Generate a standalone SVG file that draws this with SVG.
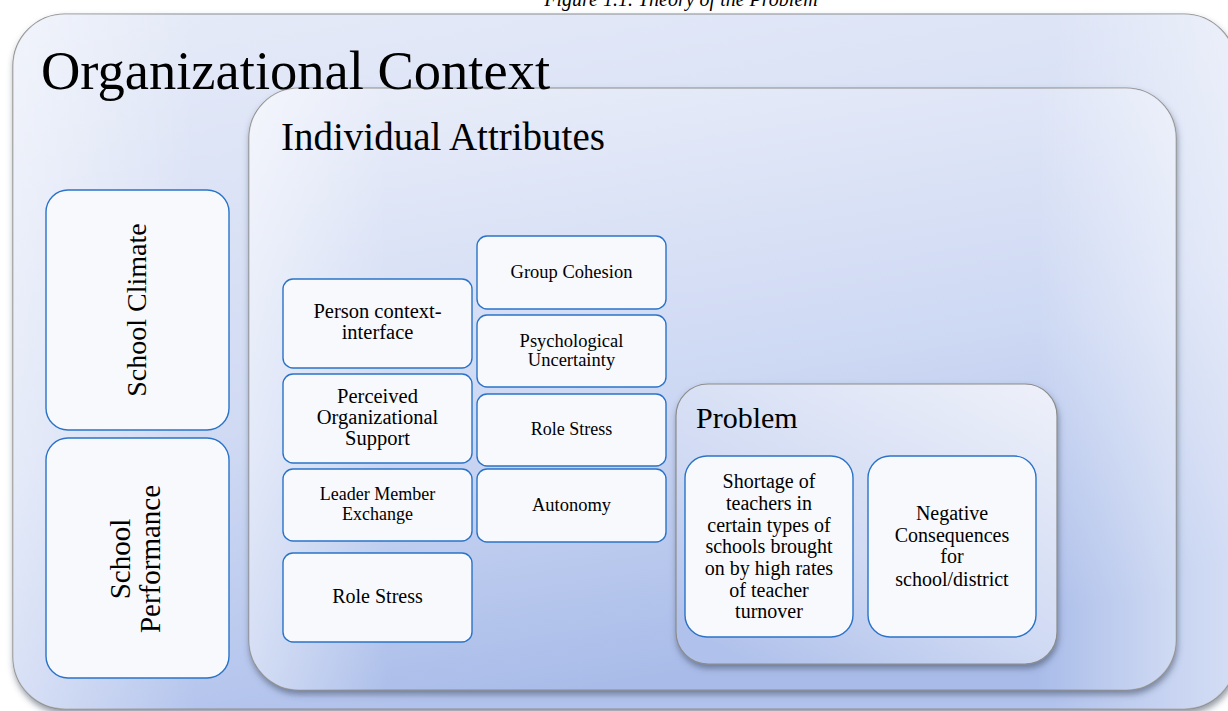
<svg xmlns="http://www.w3.org/2000/svg" width="1228" height="711" viewBox="0 0 1228 711">
<defs>
<linearGradient id="gOuter" x1="0" y1="0" x2="0.3" y2="1">
<stop offset="0" stop-color="#e6ebf8"/>
<stop offset="0.6" stop-color="#d0daf3"/>
<stop offset="1" stop-color="#b1c2ec"/>
</linearGradient>
<linearGradient id="gInner" x1="0.1" y1="0" x2="0.35" y2="1">
<stop offset="0" stop-color="#e9edf9"/>
<stop offset="0.55" stop-color="#cdd8f3"/>
<stop offset="1" stop-color="#a9bce9"/>
</linearGradient>
<linearGradient id="gProb" x1="0.9" y1="0" x2="0.2" y2="1">
<stop offset="0" stop-color="#eceff9"/>
<stop offset="0.6" stop-color="#d0daf3"/>
<stop offset="1" stop-color="#b0c1eb"/>
</linearGradient>
<linearGradient id="gSide" x1="0" y1="0" x2="1" y2="0">
<stop offset="0" stop-color="#ffffff" stop-opacity="0.45"/>
<stop offset="0.15" stop-color="#ffffff" stop-opacity="0"/>
<stop offset="0.85" stop-color="#ffffff" stop-opacity="0"/>
<stop offset="1" stop-color="#ffffff" stop-opacity="0.45"/>
</linearGradient>
<filter id="shadow" x="-5%" y="-5%" width="110%" height="115%">
<feDropShadow dx="1" dy="4" stdDeviation="3" flood-color="#3a4660" flood-opacity="0.55"/>
</filter>
</defs>
<style>
.cont{stroke:#8c8c8c;stroke-width:1.2;filter:url(#shadow)}
.node{fill:#f8f9fd;stroke:#2a73c8;stroke-width:1.4}
text{font-family:"Liberation Serif","Times New Roman",serif;fill:#000}
.c{text-anchor:middle}
.p{font-size:20px}
</style>
<text x="681" y="6" font-size="20" font-style="italic" class="c">Figure 1.1. Theory of the Problem</text>
<g id="organizational-context">
<rect class="cont" x="13" y="14" width="1223" height="695" rx="52" fill="url(#gOuter)"/>
<rect x="13" y="14" width="1223" height="695" rx="52" fill="url(#gSide)"/>
</g>
<g id="individual-attributes">
<rect class="cont" x="249" y="88" width="927" height="602" rx="50" fill="url(#gInner)"/>
<rect x="249" y="88" width="927" height="602" rx="50" fill="url(#gSide)"/>
<text x="281" y="150" font-size="39">Individual Attributes</text>
</g>
<text id="organizational-context-label" x="41" y="89" font-size="54.5">Organizational Context</text>
<g id="school-climate">
<rect class="node" x="46" y="190" width="183" height="240" rx="22"/>
<text class="c" transform="translate(146,310) rotate(-90)" font-size="28">School Climate</text>
</g>
<g id="school-performance">
<rect class="node" x="46" y="438" width="183" height="240" rx="22"/>
<text class="c" transform="translate(130,559) rotate(-90)" font-size="29">School</text>
<text class="c" transform="translate(160,559) rotate(-90)" font-size="29">Performance</text>
</g>
<g id="person-context-interface">
<rect class="node" x="283" y="279" width="189" height="89" rx="10"/>
<text class="c" x="377.5" y="318" font-size="20.5">Person context-</text>
<text class="c" x="377.5" y="339" font-size="20.5">interface</text>
</g>
<g id="perceived-organizational-support">
<rect class="node" x="283" y="374" width="189" height="89" rx="10"/>
<text class="c" x="377.5" y="403" font-size="20.5">Perceived</text>
<text class="c" x="377.5" y="424" font-size="20.5">Organizational</text>
<text class="c" x="377.5" y="445" font-size="20.5">Support</text>
</g>
<g id="leader-member-exchange">
<rect class="node" x="283" y="469" width="189" height="72" rx="10"/>
<text class="c" x="377.5" y="500" font-size="18">Leader Member</text>
<text class="c" x="377.5" y="520" font-size="18">Exchange</text>
</g>
<g id="role-stress-left">
<rect class="node" x="283" y="553" width="189" height="89" rx="10"/>
<text class="c" x="377.5" y="603" font-size="20">Role Stress</text>
</g>
<g id="group-cohesion">
<rect class="node" x="477" y="236" width="189" height="73" rx="10"/>
<text class="c" x="571.5" y="278" font-size="18.5">Group Cohesion</text>
</g>
<g id="psychological-uncertainty">
<rect class="node" x="477" y="315" width="189" height="72" rx="10"/>
<text class="c" x="571.5" y="347" font-size="18.5">Psychological</text>
<text class="c" x="571.5" y="366" font-size="18.5">Uncertainty</text>
</g>
<g id="role-stress-right">
<rect class="node" x="477" y="394" width="189" height="72" rx="10"/>
<text class="c" x="571.5" y="435" font-size="18">Role Stress</text>
</g>
<g id="autonomy">
<rect class="node" x="477" y="469" width="189" height="73" rx="10"/>
<text class="c" x="571.5" y="511" font-size="18.5">Autonomy</text>
</g>
<g id="problem">
<rect class="cont" x="676" y="384" width="381" height="280" rx="32" fill="url(#gProb)"/>
<text x="696" y="428" font-size="30">Problem</text>
</g>
<g id="shortage">
<rect class="node" x="685" y="456" width="168" height="181" rx="22"/>
<text class="c p" x="769" y="488">Shortage of</text>
<text class="c p" x="769" y="509.5">teachers in</text>
<text class="c p" x="769" y="531.5">certain types of</text>
<text class="c p" x="769" y="553">schools brought</text>
<text class="c p" x="769" y="575">on by high rates</text>
<text class="c p" x="769" y="596.5">of teacher</text>
<text class="c p" x="769" y="618">turnover</text>
</g>
<g id="negative-consequences">
<rect class="node" x="868" y="456" width="168" height="181" rx="22"/>
<text class="c p" x="952" y="520">Negative</text>
<text class="c p" x="952" y="541.5">Consequences</text>
<text class="c p" x="952" y="563">for</text>
<text class="c p" x="952" y="586">school/district</text>
</g>
<g id="connectors"/>
</svg>
